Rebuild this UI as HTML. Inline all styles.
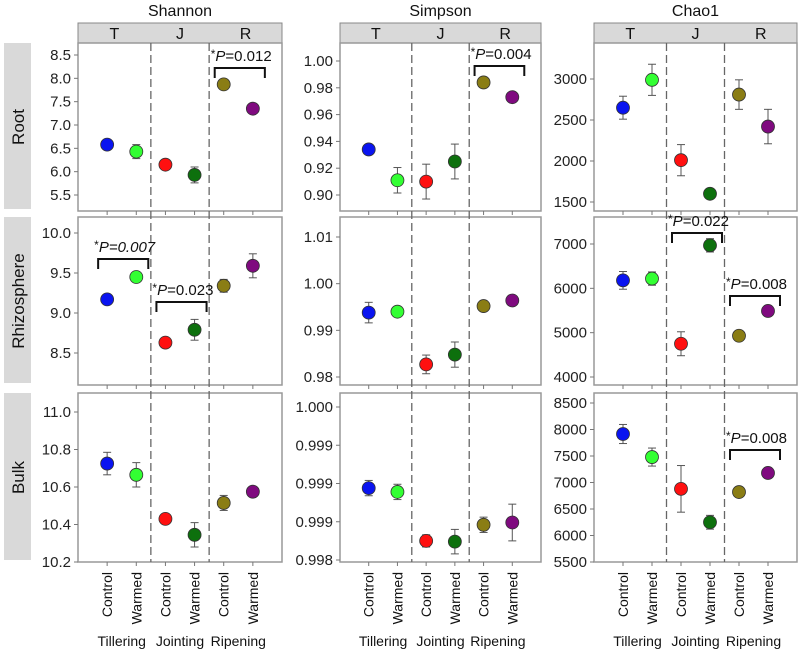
<!DOCTYPE html>
<html><head><meta charset="utf-8"><style>
body{margin:0;background:#fff;}
svg{display:block;font-family:"Liberation Sans",Arial,sans-serif;}
</style></head><body>
<svg id="c" width="800" height="656" viewBox="0 0 800 656"></svg>
<script>
const metrics = ["Shannon","Simpson","Chao1"];
const rows = ["Root","Rhizosphere","Bulk"];
const treatments = ["Control","Warmed","Control","Warmed","Control","Warmed"];
const stages = ["Tillering","Jointing","Ripening"];
const stageAbbr = ["T","J","R"];
const colors = ["#0a14f0","#33ff33","#ff1010","#0d700d","#8a7d14","#7f0a7f"];

const shannonRoot = [6.58,6.43,6.15,5.93,7.87,7.35];
const shannonRootErr = [0.03,0.15,0.03,0.17,0.03,0.03];
const shannonRhiz = [9.17,9.45,8.63,8.79,9.34,9.59];
const shannonRhizErr = [0.02,0.03,0.03,0.13,0.08,0.15];
const shannonBulk = [10.725,10.665,10.43,10.345,10.515,10.575];
const shannonBulkErr = [0.06,0.065,0.01,0.065,0.04,0.01];
const simpsonRoot = [0.934,0.911,0.910,0.925,0.984,0.973];
const simpsonRootErr = [0.001,0.0095,0.013,0.013,0.001,0.001];
const simpsonRhiz = [0.9938,0.9940,0.9827,0.9848,0.9952,0.9964];
const simpsonRhizErr = [0.0022,0.0003,0.002,0.0027,0.0003,0.0003];
const simpsonBulk = [0.99894,0.99889,0.99825,0.99824,0.99846,0.99849];
const simpsonBulkErr = [0.0001,0.0001,0.00008,0.00016,0.0001,0.00024];
const chaoRoot = [2650,2990,2010,1600,2810,2420];
const chaoRootErr = [140,190,190,20,180,210];
const chaoRhiz = [6180,6220,4750,6970,4930,5490];
const chaoRhizErr = [200,150,270,150,30,100];
const chaoBulk = [7915,7480,6880,6250,6820,7180];
const chaoBulkErr = [180,170,440,130,20,20];

const shannonRootTicks=[5.5,6.0,6.5,7.0,7.5,8.0,8.5];
const shannonRhizTicks=[8.5,9.0,9.5,10.0];
const shannonBulkTicks=[10.2,10.4,10.6,10.8,11.0];
const simpsonRootTicks=[0.90,0.92,0.94,0.96,0.98,1.00];
const simpsonRhizTicks=[0.98,0.99,1.00,1.01];
const simpsonBulkTicks=[0.998,0.9985,0.999,0.9995,1.000];
const simpsonBulkTickLabels=["0.998","0.999","0.999","0.999","1.000"];
const chaoRootTicks=[1500,2000,2500,3000];
const chaoRhizTicks=[4000,5000,6000,7000];
const chaoBulkTicks=[5500,6000,6500,7000,7500,8000,8500];

const vals=[[shannonRoot,shannonRhiz,shannonBulk],[simpsonRoot,simpsonRhiz,simpsonBulk],[chaoRoot,chaoRhiz,chaoBulk]];
const errs=[[shannonRootErr,shannonRhizErr,shannonBulkErr],[simpsonRootErr,simpsonRhizErr,simpsonBulkErr],[chaoRootErr,chaoRhizErr,chaoBulkErr]];
const ticks=[[shannonRootTicks,shannonRhizTicks,shannonBulkTicks],[simpsonRootTicks,simpsonRhizTicks,simpsonBulkTicks],[chaoRootTicks,chaoRhizTicks,chaoBulkTicks]];
const tickDigits=[[1,1,1],[2,2,3],[0,0,0]];

const colX=[[78,282],[340,541],[594,797]];
const rowY=[[43,211],[217,385],[393,562]];
const cal=[
 [[8.5,55,5.5,195],[10.0,233,8.5,353],[11.0,412,10.2,562]],
 [[1.00,61,0.90,195],[1.01,237,0.98,377],[1.000,407,0.998,560]],
 [[3000,79,1500,202],[7000,244,4000,377],[8500,403,5500,562]]
];
const sigs=[[0,0,4,5,"=0.012",68,false],[0,1,0,1,"=0.007",259,true],[0,1,2,3,"=0.023",302,false],
 [1,0,4,5,"=0.004",66,false],[2,1,2,3,"=0.022",233,false],[2,1,4,5,"=0.008",296,false],[2,2,4,5,"=0.008",450,false]];

const svg=document.getElementById('c');
const NS="http://www.w3.org/2000/svg";
function mk(tag,attrs,parent){const e=document.createElementNS(NS,tag);for(const k in attrs)e.setAttribute(k,attrs[k]);(parent||svg).appendChild(e);return e;}
function xAt(m,i){const [l,r]=colX[m];const step=(r-l)/7;return l+step*(i+1);}
function yScale(m,r){const [v1,y1,v2,y2]=cal[m][r];return v=>y1+(v-v1)*(y2-y1)/(v2-v1);}

rows.forEach((name,r)=>{
  const [t,b]=rowY[r];
  const g=mk('g',{});
  
  
  mk('rect',{x:4,y:t,width:27,height:b-t-2,fill:'#d9d9d9'},g);
  const tx=mk('text',{x:0,y:0,transform:`translate(24,${(t+b)/2}) rotate(-90)`,'text-anchor':'middle','font-size':17,fill:'#111'},g);
  tx.textContent=name;
});

metrics.forEach((mName,m)=>{
  const [L,R]=colX[m];
  const step=(R-L)/7;
  const d1=L+step*2.5, d2=L+step*4.5;
  const title=mk('text',{x:(L+R)/2,y:16,'text-anchor':'middle','font-size':16,fill:'#111'});
  
  
  title.textContent=mName;
  const hg=mk('g',{});
  
  
  mk('rect',{x:L,y:23,width:R-L,height:rowY[0][0]-23,fill:'#d9d9d9',stroke:'#888','stroke-width':1},hg);
  const cx=[(L+d1)/2,(d1+d2)/2,(d2+R)/2];
  stageAbbr.forEach((s,k)=>{const t=mk('text',{x:cx[k],y:39,'text-anchor':'middle','font-size':16,fill:'#111'},hg);t.textContent=s;});

  rows.forEach((rName,r)=>{
    const [T,B]=rowY[r];
    const ys=yScale(m,r);
    const g=mk('g',{});
    
    
    mk('rect',{x:L,y:T,width:R-L,height:B-T,fill:'none',stroke:'#999','stroke-width':1.5},g);
    ticks[m][r].forEach((tv,k)=>{
      const y=ys(tv);
      mk('line',{x1:L-4,y1:y,x2:L,y2:y,stroke:'#777'},g);
      const t=mk('text',{x:L-7,y:y+5,'text-anchor':'end','font-size':15,fill:'#222'},g);
      
      
      t.textContent=(m===1&&r===2)?simpsonBulkTickLabels[k]:tv.toFixed(tickDigits[m][r]);
    });
    for(let i=0;i<6;i++){const x=xAt(m,i);mk('line',{x1:x,y1:B,x2:x,y2:B+4,stroke:'#777'},g);}
    vals[m][r].forEach((v,i)=>{
      const x=xAt(m,i),y=ys(v),e=errs[m][r][i];
      const y1=ys(v+e),y2=ys(v-e);
      const eb=mk('g',{},g);
      
      
      mk('line',{x1:x,y1:y1,x2:x,y2:y2,stroke:'#555','stroke-width':1},eb);
      mk('line',{x1:x-4,y1:y1,x2:x+4,y2:y1,stroke:'#555','stroke-width':1},eb);
      mk('line',{x1:x-4,y1:y2,x2:x+4,y2:y2,stroke:'#555','stroke-width':1},eb);
      const c=mk('circle',{cx:x,cy:y,r:6.5,fill:colors[i],stroke:'#333','stroke-width':0.8},g);
      
      
    });
  });

  const dg=mk('g',{});
  
  
  [d1,d2].forEach(d=>mk('line',{x1:d,y1:rowY[0][0],x2:d,y2:rowY[2][1],stroke:'#666','stroke-width':1.3,'stroke-dasharray':'8,4'},dg));

  treatments.forEach((t,i)=>{
    const x=xAt(m,i);
    const tx=mk('text',{x:0,y:0,transform:`translate(${x+5},572) rotate(-90)`,'text-anchor':'end','font-size':14,fill:'#111'});
    
    
    tx.textContent=t;
  });
  stages.forEach((s,k)=>{
    const x=(xAt(m,2*k)+xAt(m,2*k+1))/2;
    const tx=mk('text',{x:x,y:646,'text-anchor':'middle','font-size':14,fill:'#111'});
    
    
    tx.textContent=s;
  });
});

sigs.forEach(([m,r,a,b,lab,by,allItalic])=>{
  const x1=xAt(m,a)-9,x2=xAt(m,b)+12;
  const g=mk('g',{});
  
  
  mk('path',{d:`M${x1},${by+10}V${by}H${x2}V${by+10}`,fill:'none',stroke:'#111','stroke-width':2},g);
  const t=mk('text',{x:x1-4,y:by-7,'font-size':15,fill:'#111'},g);
  const s1=mk('tspan',{'font-size':12,dy:-3},t);s1.textContent='*';
  const s2=mk('tspan',{'font-style':'italic',dy:3},t);s2.textContent='P';
  const s3=mk('tspan',allItalic?{'font-style':'italic'}:{},t);s3.textContent=lab;
});
</script>
</body></html>
